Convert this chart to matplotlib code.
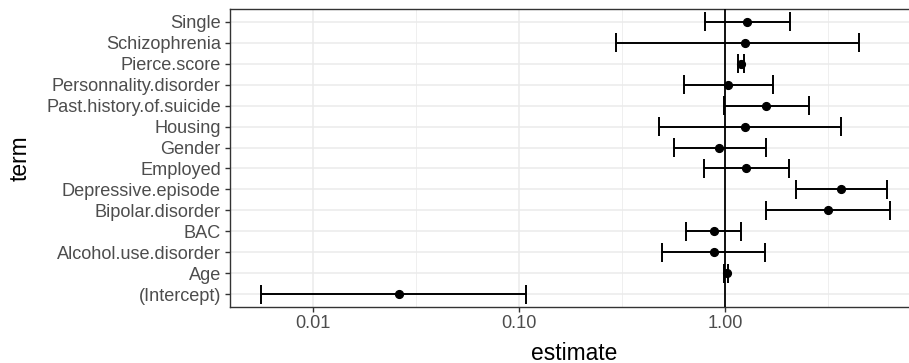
import matplotlib
matplotlib.use("Agg")
import matplotlib.pyplot as plt
import numpy as np

plt.rcParams['font.family'] = ['Liberation Sans', 'DejaVu Sans']

# model terms, bottom to top as drawn
terms = ["(Intercept)", "Age", "Alcohol.use.disorder", "BAC", "Bipolar.disorder",
         "Depressive.episode", "Employed", "Gender", "Housing",
         "Past.history.of.suicide", "Personnality.disorder", "Pierce.score",
         "Schizophrenia", "Single"]
estimate = [0.0261, 1.015, 0.88, 0.88, 3.14, 3.64, 1.266, 0.933, 1.247,
            1.571, 1.035, 1.188, 1.247, 1.278]
conf_low = [0.00557, 0.99, 0.495, 0.646, 1.571, 2.196, 0.79, 0.563, 0.478,
            0.98, 0.627, 1.148, 0.296, 0.794]
conf_high = [0.1074, 1.035, 1.564, 1.188, 6.27, 6.1, 2.03, 1.571, 3.64,
             2.544, 1.708, 1.235, 4.45, 2.05]

W, H = 909, 363
fig = plt.figure(figsize=(W / 100, H / 100), dpi=100)

# ggplot-like 5% expansion on the log scale
lo = np.log10(min(conf_low))
hi = np.log10(max(conf_high))
pad = 0.05 * (hi - lo)
xmin, xmax = 10 ** (lo - pad), 10 ** (hi + pad)
x0 = 229.5
px_per_dec = (313.3 - x0) / (-2 - (lo - pad))
right_px = x0 + px_per_dec * (hi + pad - (lo - pad))

ax = fig.add_axes([x0 / W, (H - 306.7) / H, (right_px - x0) / W, (306.7 - 9.3) / H])
ax.set_xscale("log")
ax.set_xlim(xmin, xmax)
n = len(terms)
y = np.arange(1, n + 1)
ax.set_ylim(0.4, n + 0.6)

# grid
for v in [0.01, 0.1, 1.0]:
    ax.axvline(v, color="#EBEBEB", lw=1.1, zorder=0)
for v in [10 ** -2.5, 10 ** -1.5, 10 ** -0.5, 10 ** 0.5]:
    ax.axvline(v, color="#EBEBEB", lw=0.55, zorder=0)
for yy in y:
    ax.axhline(yy, color="#EBEBEB", lw=1.1, zorder=0)

ax.hlines(y, conf_low, conf_high, color="black", lw=1.4, zorder=2)
ax.vlines(conf_low, y - 0.45, y + 0.45, color="black", lw=1.4, zorder=2)
ax.vlines(conf_high, y - 0.45, y + 0.45, color="black", lw=1.4, zorder=2)
ax.axvline(1.0, color="black", lw=1.3, zorder=3)
ax.plot(estimate, y, "o", color="black", ms=5.6, zorder=4)

ax.set_xticks([0.01, 0.1, 1.0])
ax.set_xticklabels(["0.01", "0.10", "1.00"])
ax.xaxis.set_minor_locator(matplotlib.ticker.NullLocator())
ax.set_yticks(y)
ax.set_yticklabels(terms)
ax.tick_params(axis="both", colors="#333333", labelcolor="#4D4D4D",
               labelsize=13.1, length=3.8, width=1.0, pad=2.5)
for s in ax.spines.values():
    s.set_color("#333333")
    s.set_linewidth(1.0)

fig.text(20 / W, (H - 158) / H, "term", rotation=90, ha="center", va="center",
         fontsize=16.4, color="black")
fig.text(574 / W, (H - 359.5) / H, "estimate", ha="center", va="baseline",
         fontsize=16.4, color="black")

fig.savefig("out.png", dpi=100)
